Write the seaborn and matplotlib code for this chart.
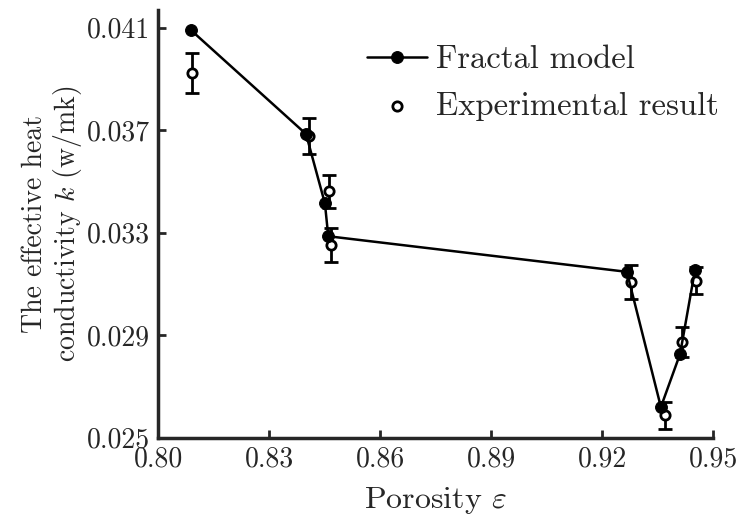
import numpy as np
import pandas as pd
import matplotlib
matplotlib.use("Agg")
import matplotlib.pyplot as plt
import seaborn as sns
from matplotlib.ticker import FormatStrFormatter

# Datos
frac_x = [0.8088, 0.8400, 0.8451, 0.8460, 0.9267, 0.9359, 0.9411, 0.9451]
frac_k = [0.04092, 0.03685, 0.03414, 0.03286, 0.03147, 0.02619, 0.02827, 0.03153]

exp_x = [0.8091, 0.8409, 0.8461, 0.8467, 0.9277, 0.9370, 0.9417, 0.9454]
exp_k = [0.03923, 0.03677, 0.03462, 0.03251, 0.03107, 0.02586, 0.02873, 0.03112]
exp_err = [0.00078, 0.00070, 0.00065, 0.00066, 0.00065, 0.00052, 0.00060, 0.00052]

x_ticks = [0.80, 0.83, 0.86, 0.89, 0.92, 0.95]
y_ticks = [0.025, 0.029, 0.033, 0.037, 0.041]

sns.set_style("ticks")
plt.rcParams['font.family'] = ['cmr10', 'DejaVu Serif']
plt.rcParams['mathtext.fontset'] = 'cm'
plt.rcParams['axes.formatter.use_mathtext'] = True
plt.rcParams['axes.unicode_minus'] = False

df_frac = pd.DataFrame({"x": frac_x, "k": frac_k})
df_exp = pd.DataFrame({"x": exp_x, "k": exp_k, "err": exp_err})

fig = plt.figure(figsize=(7.42, 5.19), dpi=100)
ax = fig.add_axes([0.213, 0.157, 0.748, 0.824])

ax.errorbar(df_exp["x"], df_exp["k"], yerr=df_exp["err"], fmt='none',
            ecolor='black', elinewidth=2, capsize=5, capthick=2, zorder=2)
sns.scatterplot(data=df_exp, x="x", y="k", ax=ax, marker='o', s=45,
                facecolor='white', edgecolor='black', linewidth=2,
                label="Experimental result", zorder=3)
sns.lineplot(data=df_frac, x="x", y="k", ax=ax, sort=False, color='black',
             linewidth=1.8, marker='o', markersize=8.5, markerfacecolor='black',
             markeredgecolor='black', label="Fractal model", zorder=4)

ax.set_xlim(0.80, 0.95)
ax.set_ylim(0.025, 0.0417)
ax.set_xticks(x_ticks)
ax.set_yticks(y_ticks)
ax.xaxis.set_major_formatter(FormatStrFormatter('%.2f'))
ax.yaxis.set_major_formatter(FormatStrFormatter('%.3f'))
ax.tick_params(direction='in', length=6, width=2, labelsize=20, pad=6)

sns.despine(ax=ax)
for s in ['left', 'bottom']:
    ax.spines[s].set_linewidth(2.5)

ax.set_xlabel(r"Porosity $\varepsilon$", fontsize=23, labelpad=9)
ax.set_ylabel("The effective heat\nconductivity $k$ (w/mk)", fontsize=20,
              labelpad=2, linespacing=1.1)

handles, labels = ax.get_legend_handles_labels()
order = [labels.index("Fractal model"), labels.index("Experimental result")]
ax.legend([handles[i] for i in order], [labels[i] for i in order],
          frameon=False, fontsize=23.5, loc='upper left',
          bbox_to_anchor=(367 / 742, 1 - 45 / 519), bbox_transform=fig.transFigure,
          borderaxespad=0, borderpad=0, handlelength=1.85, handletextpad=0.27,
          labelspacing=0.55)

fig.savefig("out.png", dpi=100)
